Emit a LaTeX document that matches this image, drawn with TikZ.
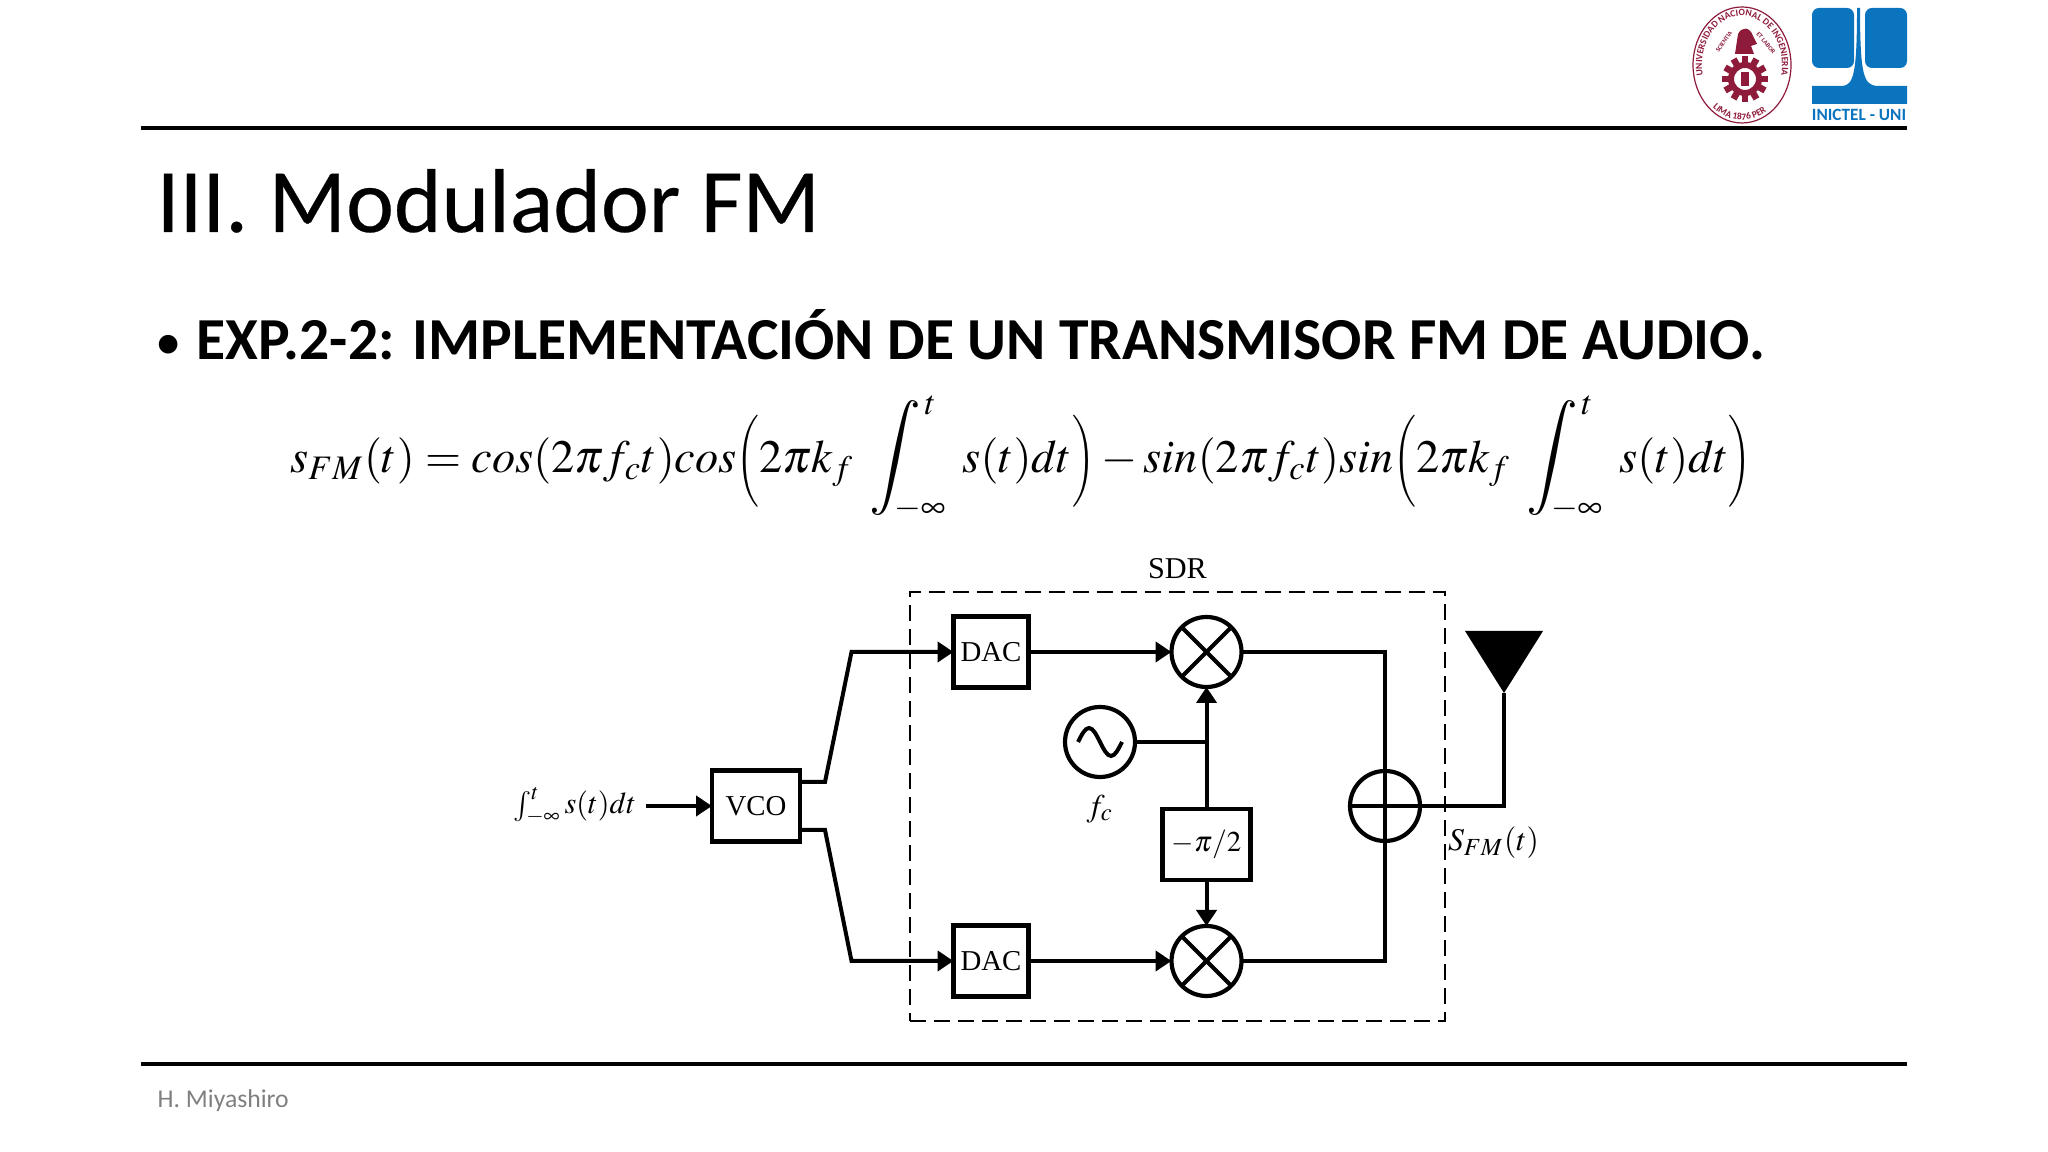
\documentclass[tikz,border=0pt]{standalone}
\usepackage{mathptmx}
\usepackage[no-math]{fontspec}
\setmainfont{Liberation Serif}
\newfontfamily\slidefont{Carlito}
\newfontfamily\titlefont[FakeBold=0.3]{Carlito}
\usepackage{amsmath,graphicx}
\usetikzlibrary{arrows.meta,positioning,decorations.text}
\definecolor{Ink}{HTML}{000000}
\definecolor{Foot}{HTML}{7F7F7F}
\definecolor{Seal}{HTML}{8E1B3A}
\definecolor{Inictel}{HTML}{0B74BE}
\newcommand{\sealfont}{\fontsize{2.7pt}{3pt}\selectfont\slidefont\bfseries}
\newcommand{\tinyseal}{\fontsize{1.8pt}{2pt}\selectfont\slidefont\bfseries}
\newcommand{\tallL}{\mathopen{\vcenter{\hbox{\scalebox{.62}[.66]{$\Bigg($}}}}}
\newcommand{\tallR}{\mathclose{\vcenter{\hbox{\scalebox{.62}[.66]{$\Bigg)$}}}}}
\newcommand{\bigInt}{\mathop{\scalebox{1.24}{$\displaystyle\int$}}\nolimits}

\begin{document}
\begin{tikzpicture}[
    x=0.1mm,y=-0.1mm,
    node distance=5mm and 6mm,
    block/.style={draw=Ink,line width=0.45mm,minimum width=7.5mm,minimum height=7.1mm,
      inner sep=0pt,outer sep=0pt,font=\fontsize{8.2pt}{10pt}\selectfont},
    round/.style={draw=Ink,circle,line width=0.42mm,minimum size=7mm,inner sep=0pt,outer sep=0pt},
    mixer/.style={round,path picture={
        \draw[line width=0.4mm] (path picture bounding box.north west)--(path picture bounding box.south east);
        \draw[line width=0.4mm] (path picture bounding box.north east)--(path picture bounding box.south west);}},
    adder/.style={round,path picture={
        \draw[line width=0.4mm] (path picture bounding box.north)--(path picture bounding box.south);
        \draw[line width=0.4mm] (path picture bounding box.west)--(path picture bounding box.east);}},
    wire/.style={line width=0.4mm,draw=Ink},
    arrow/.style={wire,-{Triangle[length=1.6mm,width=2mm]}},
    rule/.style={line width=0.4mm,draw=Ink},
    label/.style={inner sep=0pt,outer sep=0pt,font=\fontsize{9pt}{11pt}\selectfont}
]
\useasboundingbox (0,0) rectangle (2048,1152);
% slide frame
\draw[rule] (141,128)--(1907,128);
\draw[rule] (141,1064)--(1907,1064);
\node[anchor=base west,inner sep=0pt,font=\titlefont\fontsize{25.8pt}{30pt}\selectfont] (title) at (156,232) {III. Modulador FM};
\node[anchor=base west,inner sep=0pt,font=\slidefont\fontsize{15pt}{18pt}\selectfont] (dot) at (155,360) {•};
\node[anchor=base west,inner sep=0pt,font=\slidefont\bfseries\fontsize{16.95pt}{20pt}\selectfont] (head) at (196,360) {EXP.2-2: IMPLEMENTACIÓN DE UN TRANSMISOR FM DE AUDIO.};
\node[anchor=base west,inner sep=0pt,text=Foot,font=\slidefont\fontsize{7.3pt}{9pt}\selectfont] (foot) at (157,1107) {H. Miyashiro};
\node[inner sep=0pt,font=\fontsize{13.2pt}{16pt}\selectfont] (formula) at (1021,458)
  {$\displaystyle s_{FM}(t)=cos(2\pi f_ct)cos\tallL 2\pi k_f\;\bigInt_{\mkern-14mu-\infty}^{\,t}\;s(t)dt\tallR-sin(2\pi f_ct)sin\tallL 2\pi k_f\;\bigInt_{\mkern-14mu-\infty}^{\,t}\;s(t)dt\tallR$};
% seal
\draw[Seal,line width=0.12mm] (1742,65) ellipse (49 and 58);
\path[decorate,decoration={text along path,text align=center,text={|\sealfont\color{Seal}|UNIVERSIDAD NACIONAL DE INGENIERIA}}]
  (1742,65) ++(-215:40 and 49) arc (-215:35:40 and 49);
\path[decorate,decoration={text along path,text align=center,text={|\sealfont\color{Seal}|LIMA 1876 PERU}}]
  (1742,65) ++(-235:46 and 55) arc (-235:-305:46 and 55);
\node[rotate=55,inner sep=0pt,text=Seal,font=\tinyseal] (sci) at (1724,42) {SCIENTIA};
\node[rotate=-50,inner sep=0pt,text=Seal,font=\tinyseal] (lab) at (1766,43) {ET LABOR};
\fill[Seal] (1735,54)--(1738,34) .. controls (1742,26) and (1750,27) .. (1753,36)--(1757,44)--(1751,46)--(1754,54)--cycle;
\foreach \a in {0,30,...,330}
  \draw[Seal,line width=0.65mm] (1745,79) ++(\a:16)--++(\a:7);
\draw[Seal,line width=0.6mm] (1745,79) circle (14);
\fill[Seal] (1741,72) rectangle (1749,86);
% INICTEL mark
\fill[Inictel,rounded corners=0.7mm] (1812,8) rectangle (1854,68);
\fill[Inictel,rounded corners=0.7mm] (1865,8) rectangle (1907,68);
\fill[Inictel] (1812,86)--(1843,86) .. controls (1853,84) and (1857,76) .. (1857,8)--(1860,8)
  .. controls (1860,76) and (1864,84) .. (1876,86)--(1907,86)--(1907,104)--(1812,104)--cycle;
\node[inner sep=0pt,text=Inictel,font=\slidefont\bfseries\fontsize{4.9pt}{5pt}\selectfont] (uni) at (1859,115) {INICTEL - UNI};
% block diagram
\node[draw=Ink,line width=0.25mm,dash pattern=on 1.6mm off 0.8mm,minimum width=53.5mm,minimum height=42.9mm,inner sep=0pt,outer sep=0pt] (sdr) at (1177.5,806.5) {};
\node[label,above=1.3mm of sdr,font=\fontsize{8.6pt}{10pt}\selectfont] (sdrname) {SDR};
\node[block,minimum width=8.8mm] (vco) at (756,806) {VCO};
\node[block] (dacA) at (991,652) {DAC};
\node[block,below=23.8mm of dacA] (dacB) {DAC};
\node[mixer,right=14.3mm of dacA] (mixA) {};
\node[mixer,right=14.3mm of dacB] (mixB) {};
\node[block,minimum width=8.8mm,below=12.2mm of mixA] (phase) {$-\pi/2$};
\node[round] (osc) at (1100,742) {};
\node[label,below=1.8mm of osc] (fc) {$f_c$};
\node[adder] (add) at (1385,806) {};
\node[label,left=6.6mm of vco,inner sep=1mm,font=\fontsize{8.6pt}{10pt}\selectfont] (input) {$\int_{-\infty}^{t}s(t)dt$};
\node[label,anchor=west] (sfm) at (1448,843) {$S_{FM}(t)$};
\coordinate (antTip) at (1504,693);
\fill[Ink] (antTip)--++(-39,-62)--++(78,0)--cycle;
\draw[wire] (osc.center)++(-22,0) sin ++(11,-14) cos ++(11,14) sin ++(11,14) cos ++(11,-14);
\draw[arrow] (input.east)--(vco.west);
\draw[arrow] ([yshift=2.4mm]vco.east)--++(25,0)--([xshift=-10.2mm]dacA.west)--(dacA.west);
\draw[arrow] ([yshift=-2.4mm]vco.east)--++(25,0)--([xshift=-10.2mm]dacB.west)--(dacB.west);
\draw[arrow] (dacA)--(mixA);
\draw[arrow] (dacB)--(mixB);
\draw[arrow] (phase)--(mixA);
\draw[arrow] (phase)--(mixB);
\draw[wire] (osc.east)--(osc.east-|phase.north);
\draw[wire] (mixA.east)-|(add.north);
\draw[wire] (mixB.east)-|(add.south);
\draw[wire] (add.east)-|(antTip);
\end{tikzpicture}
\end{document}
